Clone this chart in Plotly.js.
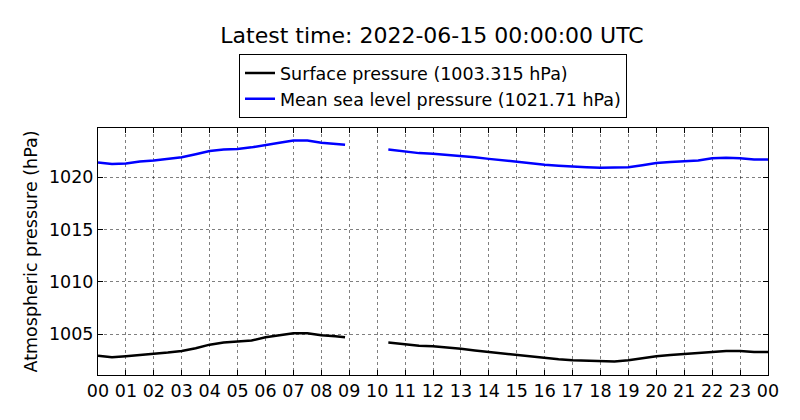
<!DOCTYPE html>
<html>
<head>
<meta charset="utf-8">
<script src="https://cdn.plot.ly/plotly-3.0.1.min.js"></script>
<style>body{margin:0;background:#fff}#chart{width:800px;height:420px}</style>
</head>
<body>
<div id="chart"></div>
<script>
// hours of day (null marks the data gap)
var hours = [0, 0.5, 1, 1.5, 2, 2.5, 3, 3.5, 4, 4.5, 5, 5.5, 6, 6.5, 7, 7.5, 8, 8.5, 8.85, 9.6,
	10.4, 11, 11.5, 12, 12.5, 13, 13.5, 14, 14.5, 15, 15.5, 16, 16.5, 17, 17.5, 18, 18.5, 19, 19.5, 20, 20.5, 21, 21.5, 22, 22.5, 23, 23.5, 24];
var mslp = [1021.4, 1021.25, 1021.3, 1021.5, 1021.6, 1021.75, 1021.9, 1022.2, 1022.5, 1022.65, 1022.7, 1022.85, 1023.1, 1023.3, 1023.5, 1023.5, 1023.3, 1023.2, 1023.1, null,
	1022.65, 1022.45, 1022.3, 1022.25, 1022.15, 1022.0, 1021.9, 1021.75, 1021.6, 1021.5, 1021.35, 1021.2, 1021.1, 1021.0, 1020.95, 1020.9, 1020.9, 1020.95, 1021.15, 1021.35, 1021.45, 1021.55, 1021.6, 1021.8, 1021.85, 1021.8, 1021.7, 1021.7];
var surface = [1002.95, 1002.8, 1002.9, 1003.0, 1003.15, 1003.25, 1003.4, 1003.65, 1004.0, 1004.2, 1004.3, 1004.4, 1004.7, 1004.9, 1005.1, 1005.1, 1004.9, 1004.8, 1004.7, null,
	1004.2, 1004.05, 1003.9, 1003.85, 1003.75, 1003.6, 1003.45, 1003.3, 1003.15, 1003.0, 1002.85, 1002.7, 1002.6, 1002.5, 1002.45, 1002.4, 1002.4, 1002.5, 1002.7, 1002.9, 1003.0, 1003.1, 1003.2, 1003.35, 1003.4, 1003.4, 1003.3, 1003.3];
var tickHours = [];
var tickLabels = [];
for (var i = 0; i <= 24; i++) {
	tickHours.push(i);
	tickLabels.push(('0' + (i % 24)).slice(-2));
}

var sfcTrace = {
	x: hours, y: surface, name: 'Surface pressure (1003.315 hPa)',
	type: 'scatter', mode: 'lines', connectgaps: false,
	line: {color: '#000000', width: 2.5}
};
var mslTrace = {
	x: hours, y: mslp, name: 'Mean sea level pressure (1021.71 hPa)',
	type: 'scatter', mode: 'lines', connectgaps: false,
	line: {color: '#0000ff', width: 2.5}
};

var axisStyle = {
	showline: true, mirror: 'ticks', linecolor: '#000', linewidth: 1,
	ticks: 'inside', ticklen: 5, tickcolor: '#000',
	showgrid: true, gridcolor: '#000', griddash: 'dot', gridwidth: 0.5,
	zeroline: false, tickfont: {size: 17.5, color: '#000'}
};

var layout = {
	width: 800, height: 420,
	font: {family: 'DejaVu Sans', color: '#000'},
	paper_bgcolor: '#fff', plot_bgcolor: '#fff',
	margin: {l: 98, r: 32, t: 128, b: 45, pad: 0},
	title: {text: 'Latest time: 2022-06-15 00:00:00 UTC', font: {size: 22}, x: 0.54, xanchor: 'center', y: 0.915, yanchor: 'middle'},
	showlegend: true,
	legend: {x: 0.5, xanchor: 'center', y: 1.04, yanchor: 'bottom', bordercolor: '#000', borderwidth: 1,
		font: {size: 17.5}, bgcolor: '#fff', tracegroupgap: 0},
	xaxis: Object.assign({}, axisStyle, {range: [0, 24], tickvals: tickHours, ticktext: tickLabels}),
	yaxis: Object.assign({}, axisStyle, {range: [1001.1, 1024.7], tickvals: [1005, 1010, 1015, 1020],
		title: {text: 'Atmospheric pressure (hPa)', font: {size: 17.5}, standoff: 6}})
};

Plotly.newPlot('chart', [sfcTrace, mslTrace], layout, {staticPlot: true});
</script>
</body>
</html>
